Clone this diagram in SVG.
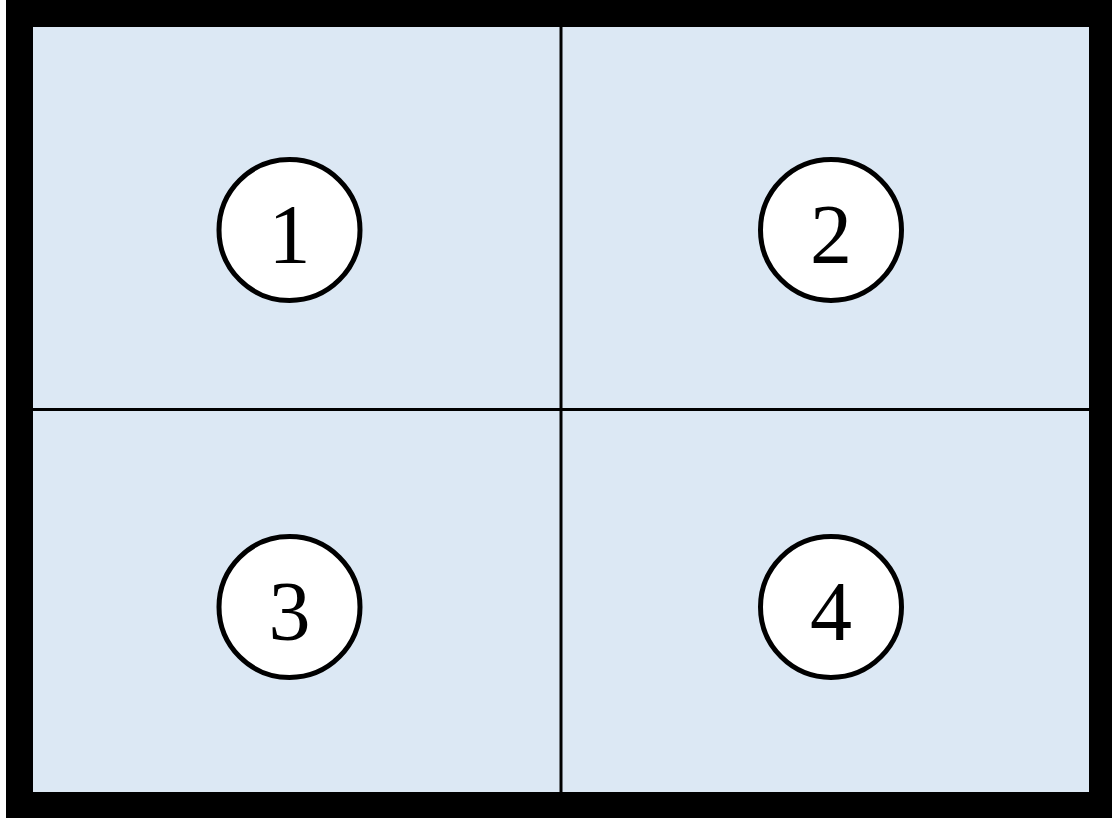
<svg xmlns="http://www.w3.org/2000/svg" width="1112" height="820" viewBox="0 0 1112 820">
<style>
.cell{fill:#dce8f4;}
.div{stroke:#000;stroke-width:3;}
.num circle{fill:#fff;stroke:#000;stroke-width:5;}
.num text{font-family:"Liberation Serif","DejaVu Serif",serif;font-size:84px;fill:#000;text-anchor:middle;}
</style>
<g id="frame">
<rect x="6" y="0" width="1106" height="818" fill="#000"/>
<rect class="cell" x="33" y="27" width="1056" height="765"/>
</g>
<g id="dividers">
<line class="div" x1="561" y1="27" x2="561" y2="792"/>
<line class="div" x1="33" y1="409.5" x2="1089" y2="409.5"/>
</g>
<g id="n1" class="num"><circle cx="289.5" cy="230" r="70.5"/><text x="289.5" y="263">1</text></g>
<g id="n2" class="num"><circle cx="831" cy="230" r="70.5"/><text x="831" y="263">2</text></g>
<g id="n3" class="num"><circle cx="289.5" cy="607" r="70.5"/><text x="289.5" y="640">3</text></g>
<g id="n4" class="num"><circle cx="831" cy="607" r="70.5"/><text x="831" y="640">4</text></g>
</svg>
